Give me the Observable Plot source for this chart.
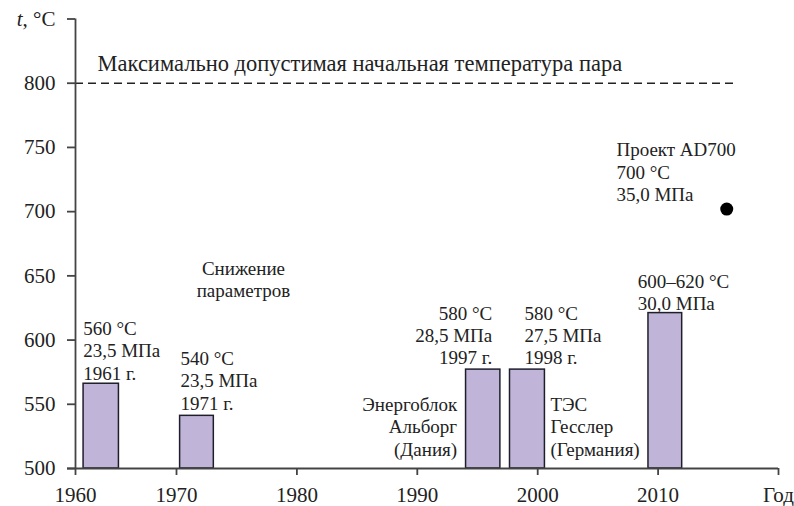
<!DOCTYPE html>
<html><head><meta charset="utf-8">
<script src="https://cdn.jsdelivr.net/npm/d3@7"></script>
<script src="https://cdn.jsdelivr.net/npm/@observablehq/plot@0.6"></script>
<style>body{margin:0;background:#fff}</style>
</head><body><div id="chart"></div>
<script>
// Bars (years of start/end and top temperature, °C)
const barStart = [1960.8, 1970.3, 1994.05, 1997.7, 2009.2];
const barEnd   = [1964.3, 1973.1, 1996.9, 2000.6, 2012.0];
const barTemp  = [566, 541, 577, 577, 621];
// Project point
const pointYear = [2015.7];
const pointTemp = [702];
// Max allowed temperature line
const limitTemp = 800;
const limitFrom = 1960;
const limitTo = 2016.3;
// Tick values
const xTicks = [1960, 1970, 1980, 1990, 2000, 2010, 2020];
const yTicks = [500, 550, 600, 650, 700, 750, 800, 850];
// Annotation texts with their anchors in data units
const noteText = [
  "560 °C\n23,5 МПа\n1961 г.",
  "Снижение\nпараметров",
  "540 °C\n23,5 МПа\n1971 г.",
  "580 °C\n28,5 МПа\n1997 г.",
  "580 °C\n27,5 МПа\n1998 г.",
  "Энергоблок\nАльборг\n(Дания)",
  "ТЭС\nГесслер\n(Германия)",
  "600–620 °C\n30,0 МПа",
  "Проект AD700\n700 °C\n35,0 МПа"
];
const noteYear = [1960.76, 1975.56, 1970.33, 1996.22, 1998.9, 1993.31, 2001.06, 2008.31, 2006.54];
const noteTemp = [616.6, 663.1, 593.0, 628.3, 628.3, 557.2, 557.2, 653.0, 755.5];
const noteAnchor = ["start", "middle", "start", "end", "start", "end", "start", "start", "start"];
const titleText = ["Максимально допустимая начальная температура пара"];
const titleYear = [1962.18];
const titleTemp = [821.6];

const bars = barStart.map((s, i) => ({x1: s, x2: barEnd[i], t: barTemp[i]}));
const points = pointYear.map((x, i) => ({x, y: pointTemp[i]}));
const notes = noteText.map((text, i) => ({text, x: noteYear[i], y: noteTemp[i], a: noteAnchor[i]}));
const title = titleText.map((text, i) => ({text, x: titleYear[i], y: titleTemp[i]}));

const FONT = "Liberation Serif";
const axisColor = "#444";
const noteMark = (anchor) => Plot.text(notes.filter(d => d.a === anchor), {
  x: "x", y: "y", text: "text", textAnchor: anchor, lineAnchor: "top",
  lineHeight: 1.18, fontSize: 19, fontFamily: FONT, fill: "#222"
});

const chart = Plot.plot({
  width: 794, height: 506,
  marginLeft: 75, marginRight: 16, marginTop: 18.5, marginBottom: 38,
  x: {type: "linear", domain: [1960, 1970, 2020], range: [75, 176, 778], label: null},
  y: {type: "linear", domain: [500, 850], range: [468, 18.5], label: null},
  marks: [
    Plot.rect(bars, {x1: "x1", x2: "x2", y1: 500, y2: "t", fill: "#c0b5d8", stroke: "#1f1f2b", strokeWidth: 1.5}),
    Plot.ruleY([limitTemp], {x1: limitFrom, x2: limitTo, stroke: "#222", strokeWidth: 1.5, strokeDasharray: "8,5"}),
    Plot.dot(points, {x: "x", y: "y", r: 6.5, fill: "#000", stroke: "none"}),
    Plot.ruleY([500], {x1: 1960, x2: 2020, insetLeft: -8, stroke: axisColor, strokeWidth: 1.8}),
    Plot.ruleX([1960], {y1: 500, y2: 850, stroke: axisColor, strokeWidth: 1.8}),
    Plot.axisX({ticks: xTicks, tickFormat: d => d === 2020 ? "Год" : String(d), tickSize: 7, tickPadding: 12, stroke: axisColor, strokeWidth: 1.8, fontSize: 21, fontFamily: FONT, fill: "#222", label: null}),
    Plot.axisY({ticks: yTicks, tickFormat: d => d === 850 ? "t, °C" : String(d), tickSize: 8, tickPadding: 12, stroke: axisColor, strokeWidth: 1.8, fontSize: 21, fontFamily: FONT, fill: "#222", label: null}),
    Plot.text(title, {x: "x", y: "y", text: "text", textAnchor: "start", lineAnchor: "top", fontSize: 22.5, fontFamily: FONT, fill: "#222"}),
    noteMark("start"), noteMark("middle"), noteMark("end")
  ]
});
document.getElementById("chart").appendChild(chart);
d3.select(chart).selectAll("text").attr("font-family", FONT);
// italic "t" in the y-axis label
d3.select(chart).selectAll("text").filter(function() { return this.textContent === "t, °C"; }).each(function() {
  const el = d3.select(this);
  el.text(null);
  el.append("tspan").attr("font-style", "italic").text("t");
  el.append("tspan").text(", °C");
});
</script>
</body></html>
